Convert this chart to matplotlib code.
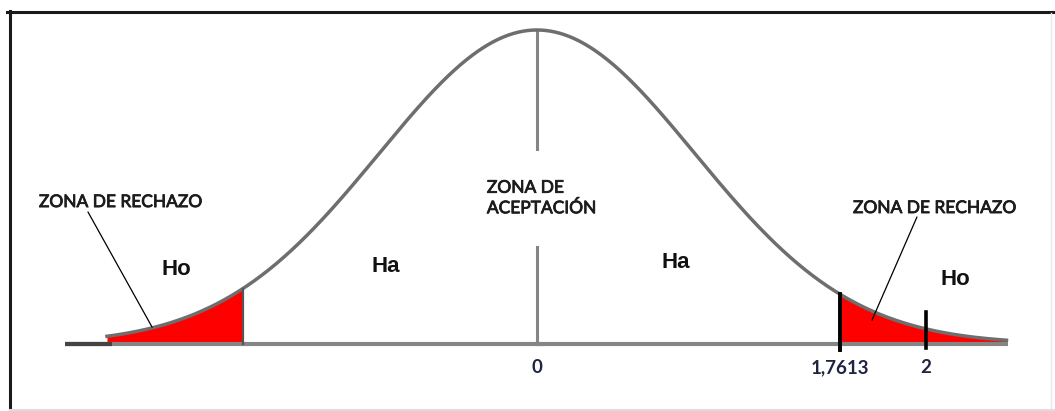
import numpy as np
import matplotlib
matplotlib.use("Agg")
import matplotlib.pyplot as plt
import matplotlib.patheffects as pe
from matplotlib.lines import Line2D

# Valores (eje x en unidades t)
curve_sigma = 0.918          # ancho de la campana dibujada
curve_span = (-2.50, 2.73)   # donde la curva toca la base
base_span = (-2.744, 2.738)
crit_left = -1.71
crit_right = 1.7613
t_stat = 2.26                # posicion dibujada del estadistico

tick_pos = [0, crit_right, t_stat]
tick_labels = ["0", "1,7613", "2"]

# Textos
region_labels = [("Ho", -2.099, 0.236), ("Ha", -0.878, 0.248),
                 ("Ha", 0.808, 0.261), ("Ho", 2.430, 0.204)]
rechazo_labels = [(-2.419, 0.452), (2.314, 0.433)]
rechazo_lines = [((-2.61, 0.420), (-2.238, 0.054)),
                 ((2.209, 0.404), (1.948, 0.076))]

x = np.linspace(curve_span[0], curve_span[1], 600)
y = np.exp(-0.5 * (x / curve_sigma) ** 2)

def curve(v):
    return np.exp(-0.5 * (v / curve_sigma) ** 2)

fig = plt.figure(figsize=(10.55, 4.11), dpi=100)
ax = fig.add_axes([0, 0, 1, 1])
ax.set_xlim(-3.122, 3.012)
ax.set_ylim(-0.2134, 1.0955)
ax.axis("off")

# zonas de rechazo
m = x <= crit_left
ax.fill_between(x[m], 0, y[m], color="#ff0000", lw=0, zorder=2)
m = x >= crit_right
ax.fill_between(x[m], 0, y[m], color="#ff0000", lw=0, zorder=2)

# base y campana
ax.plot(base_span, [0, 0], color="#858585", lw=3.0, solid_capstyle="butt", zorder=3)
ax.plot([base_span[0], -2.47], [0, 0], color="#444444", lw=3.0, solid_capstyle="butt", zorder=3)
ax.plot(x, y, color="#6e6e6e", lw=2.5, zorder=4)

# linea central cortada por el texto
ax.plot([0, 0], [0, 0.31], color="#858585", lw=2.2, zorder=3)
ax.plot([0, 0], [0.62, 1.0], color="#858585", lw=2.2, zorder=3)

# limites
ax.plot([crit_left, crit_left], [0, curve(crit_left)], color="#555555", lw=1.6, zorder=5)
ax.plot([crit_right, crit_right], [-0.02, curve(crit_right)], color="black", lw=2.8, zorder=5)
ax.plot([t_stat, t_stat], [-0.013, 0.102], color="black", lw=2.6, zorder=5)

txt_font = ["Lato", "DejaVu Sans"]
thick = [pe.withStroke(linewidth=0.6, foreground="#1c1c1c")]
for lx, ly in rechazo_labels:
    ax.text(lx, ly, "ZONA DE RECHAZO", ha="center", va="center", fontsize=12.5,
            family=txt_font, color="#1c1c1c", path_effects=thick)
for (x0, y0), (x1, y1) in rechazo_lines:
    ax.plot([x0, x1], [y0, y1], color="black", lw=0.9, zorder=6)

ax.text(-0.291, 0.465, "ZONA DE\nACEPTACIÓN", ha="left", va="center", fontsize=12.5,
        family=txt_font, color="#1c1c1c", linespacing=1.3, path_effects=thick)

for s, lx, ly in region_labels:
    ax.text(lx, ly, s, ha="center", va="center", fontsize=16, fontweight="bold",
            family="Liberation Sans", color="#111111")

for p, s in zip(tick_pos, tick_labels):
    ax.text(p, -0.076, s, ha="center", va="center", fontsize=13.5, fontweight="bold",
            family=txt_font, color="#1f2440")

# marco
fig.add_artist(Line2D([7 / 1055, 1], [1 - 12 / 411, 1 - 12 / 411], transform=fig.transFigure,
                      color="#1a1a1a", lw=2.2))
fig.add_artist(Line2D([9.5 / 1055, 9.5 / 1055], [0, 1 - 11 / 411], transform=fig.transFigure,
                      color="#1a1a1a", lw=2.2))
fig.add_artist(Line2D([1051 / 1055, 1051 / 1055], [0, 1 - 13 / 411], transform=fig.transFigure,
                      color="#e6e6e6", lw=1.0))
fig.add_artist(Line2D([10 / 1055, 1], [1.5 / 411, 1.5 / 411], transform=fig.transFigure,
                      color="#dddddd", lw=1.5))

fig.savefig("out.png", dpi=100)
